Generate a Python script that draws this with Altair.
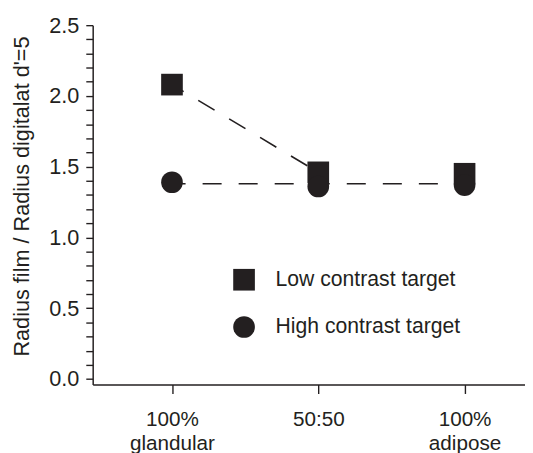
import json
import altair as alt
import pandas as pd

# ---- data ----
categories = ["100% glandular", "50:50", "100% adipose"]
x_pos = [0, 1, 2]
tick_labels = [["100%", "glandular"], ["50:50"], ["100%", "adipose"]]
series_names = ["Low contrast target", "High contrast target"]
low_contrast = [2.08, 1.46, 1.45]
high_contrast = [1.39, 1.36, 1.37]
# dashed connecting lines as drawn in the figure
low_line_x = [0, 1]
low_line_y = [2.08, 1.46]
high_line_x = [0, 1, 2]
high_line_y = [1.38, 1.38, 1.38]
y_ticks = [0.0, 0.1, 0.2, 0.3, 0.4, 0.5, 0.6, 0.7, 0.8, 0.9, 1.0, 1.1, 1.2,
           1.3, 1.4, 1.5, 1.6, 1.7, 1.8, 1.9, 2.0, 2.1, 2.2, 2.3, 2.4, 2.5]
y_title = "Radius film / Radius digitalat d'=5"

INK = "#231f20"
FONT = "Liberation Sans"

pts = pd.DataFrame(
    [{"x": x, "y": v, "series": series_names[0]} for x, v in zip(x_pos, low_contrast)]
    + [{"x": x, "y": v, "series": series_names[1]} for x, v in zip(x_pos, high_contrast)]
)
lines = pd.DataFrame(
    [{"x": x, "y": v, "series": series_names[0]} for x, v in zip(low_line_x, low_line_y)]
    + [{"x": x, "y": v, "series": series_names[1]} for x, v in zip(high_line_x, high_line_y)]
)

# x-axis label expression built from the tick label lists
parts = [(xv, json.dumps(lab)) for xv, lab in zip(x_pos, tick_labels)]
expr = parts[-1][1]
for xv, lab in reversed(parts[:-1]):
    expr = f"datum.value == {xv} ? {lab} : ({expr})"

x_enc = alt.X(
    "x:Q",
    scale=alt.Scale(domain=[-0.542, 2.413], nice=False, zero=False),
    axis=alt.Axis(
        values=x_pos, labelExpr=expr, title=None, grid=False,
        tickSize=9, labelPadding=16, labelLineHeight=24, labelFontSize=21,
        labelFont=FONT, labelColor=INK, tickColor=INK, domainColor=INK,
        tickWidth=1.4, domainWidth=1.5, labelOverlap=False, labelFlush=False,
    ),
)
y_enc = alt.Y(
    "y:Q",
    scale=alt.Scale(domain=[-0.04, 2.5], nice=False, zero=False),
    axis=alt.Axis(
        values=y_ticks,
        labelExpr="abs(round(datum.value*10)) % 5 == 0 ? format(datum.value, '.1f') : ''",
        title=y_title, grid=False, tickSize=7, labelPadding=7, labelFontSize=22,
        labelFont=FONT, labelColor=INK, tickColor=INK, domainColor=INK,
        tickWidth=1.4, domainWidth=1.5, labelOverlap=False, labelFlush=False,
        titleFont=FONT, titleFontSize=22, titleFontWeight="normal", titleColor=INK,
        titleAngle=270, titleAlign="center", titleBaseline="alphabetic",
        titleX=-65, titleY=173.5, titleLimit=0,
    ),
)

line_layer = alt.Chart(lines).mark_line(
    color=INK, strokeWidth=1.6, strokeDash=[19.3, 17.3], strokeDashOffset=5.5
).encode(x=x_enc, y=y_enc, detail="series:N")

point_layer = alt.Chart(pts).mark_point(
    filled=True, size=484, opacity=1, color=INK, strokeWidth=0
).encode(
    x=x_enc,
    y=y_enc,
    shape=alt.Shape(
        "series:N",
        scale=alt.Scale(domain=series_names, range=["square", "circle"]),
        legend=alt.Legend(
            orient="none", legendX=142.7, legendY=247.5, title=None,
            symbolSize=484, symbolFillColor=INK, symbolStrokeWidth=0,
            symbolOpacity=1, labelFontSize=21.5, labelFont=FONT, labelColor=INK,
            rowPadding=26, labelOffset=21, direction="vertical", labelLimit=400,
        ),
    ),
)

chart = (
    alt.layer(line_layer, point_layer)
    .properties(
        width=439, height=365,
        autosize=alt.AutoSizeParams(type="none"),
        padding={"left": 86, "top": 14, "right": 0, "bottom": 66},
        background="white",
    )
    .configure_view(stroke=None)
)

chart.save("out.html", embed_options={"renderer": "svg", "actions": False})
